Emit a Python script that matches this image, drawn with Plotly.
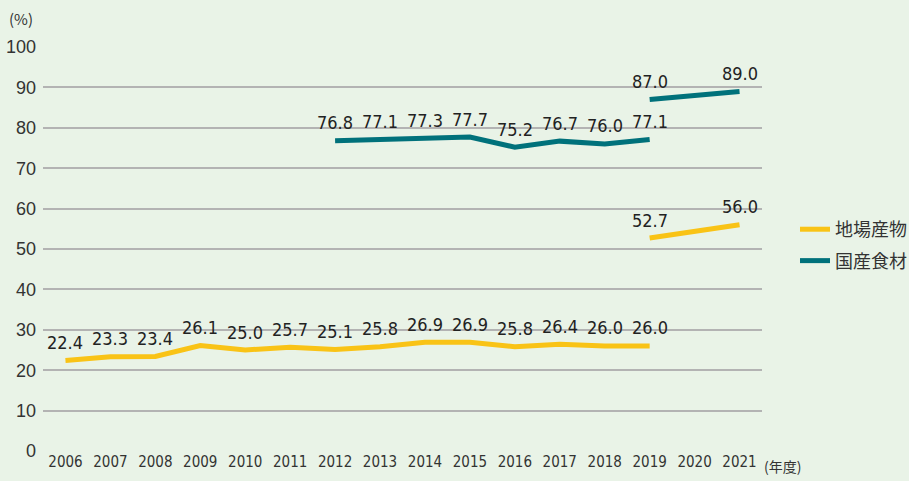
import plotly.graph_objects as go

years = [str(y) for y in range(2006, 2022)]

local_old_years = [str(y) for y in range(2006, 2020)]
local_old = [22.4, 23.3, 23.4, 26.1, 25.0, 25.7, 25.1, 25.8, 26.9, 26.9, 25.8, 26.4, 26.0, 26.0]
local_new_years = ["2019", "2021"]
local_new = [52.7, 56.0]

dom_old_years = [str(y) for y in range(2012, 2020)]
dom_old = [76.8, 77.1, 77.3, 77.7, 75.2, 76.7, 76.0, 77.1]
dom_new_years = ["2019", "2021"]
dom_new = [87.0, 89.0]

yellow = "#f9c316"
teal = "#00717b"
bg = "#e9f3e7"
narrow = "DejaVu Sans Condensed"
num_font = dict(family=narrow, size=18, color="#222222")

fig = go.Figure()
annotations = []

def add(xs, ys, color, name, show, group):
    fig.add_trace(go.Scatter(
        x=xs, y=ys, mode="lines", name=name, showlegend=show, legendgroup=group,
        line=dict(color=color, width=5),
    ))
    for x, v in zip(xs, ys):
        annotations.append(dict(x=years.index(x), y=v, xref="x", yref="y", text=f"{v:.1f}",
                                showarrow=False, yanchor="middle", yshift=18,
                                font=num_font))

add(local_old_years, local_old, yellow, "地場産物", True, "a")
add(local_new_years, local_new, yellow, "地場産物", False, "a")
add(dom_old_years, dom_old, teal, "国産食材", True, "b")
add(dom_new_years, dom_new, teal, "国産食材", False, "b")

annotations += [
    dict(text="(%)", xref="paper", yref="paper", x=-0.03, y=1.04, xanchor="center", yanchor="bottom",
         showarrow=False, font=dict(size=15, color="#333333", family="Noto Sans CJK JP")),
    dict(text="(年度)", xref="paper", yref="paper", x=1.0, y=-0.038, xanchor="left", yanchor="middle",
         showarrow=False, font=dict(size=14, color="#333333", family="Noto Sans CJK JP")),
]

fig.update_layout(
    width=909, height=481,
    margin=dict(l=43, r=147, t=47, b=30),
    paper_bgcolor=bg, plot_bgcolor=bg,
    font=dict(family="Noto Sans CJK JP, sans-serif", color="#333333"),
    legend=dict(xref="container", yref="container", x=0.8746, y=0.4906,
                xanchor="left", yanchor="middle",
                font=dict(size=18, color="#333333", family="Noto Sans CJK JP"),
                bgcolor="rgba(0,0,0,0)", itemwidth=30, tracegroupgap=5),
    xaxis=dict(type="category", categoryorder="array", categoryarray=years,
               range=[-0.5, 15.5], showgrid=False, zeroline=False, showline=False, automargin=False,
               ticks="", tickfont=dict(family=narrow, size=15, color="#333333")),
    yaxis=dict(range=[0, 100], dtick=10, showgrid=True, gridcolor="#b3b3b3", gridwidth=1.5,
               zeroline=False, showline=False, ticks="", ticklabelstandoff=6, automargin=False,
               tickfont=dict(family="Liberation Sans, Arial, sans-serif", size=18, color="#333333")),
    annotations=annotations,
)

post = "document.body.style.margin='0';"

fig.write_html("out.html", post_script=post, config={"displayModeBar": False})
